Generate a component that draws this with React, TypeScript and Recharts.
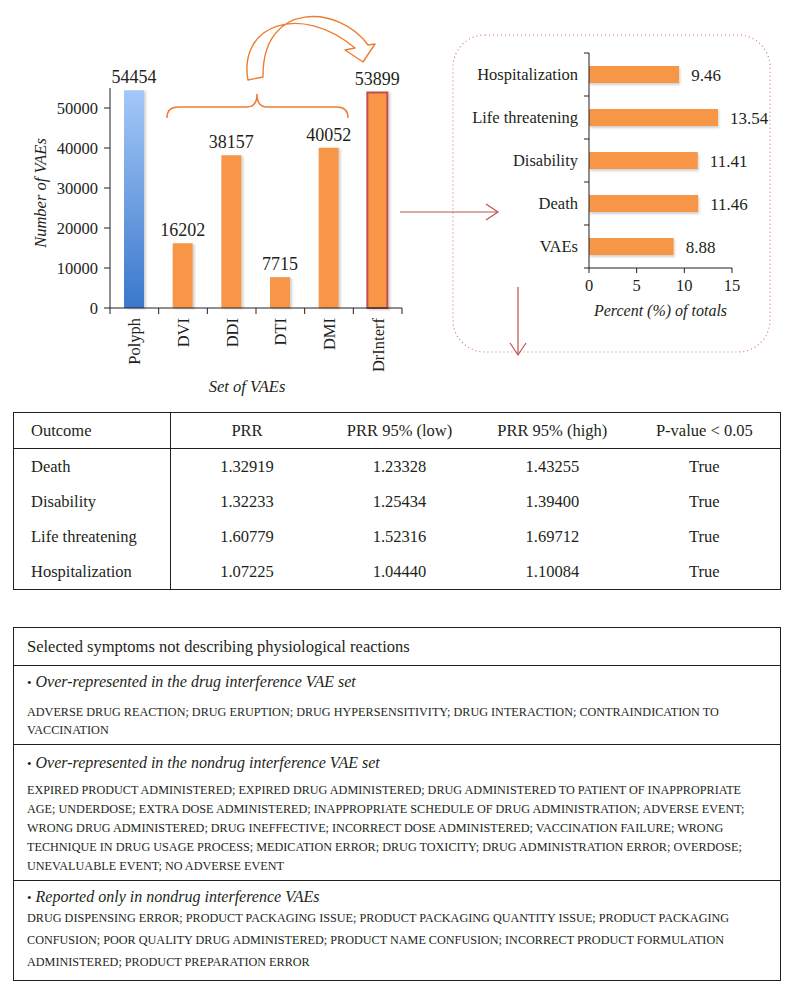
import React from "react";
import { BarChart, Bar, XAxis, YAxis, Cell, LabelList } from "recharts";

// left chart: number of VAEs per set
const vaeSets = ["Polyph", "DVI", "DDI", "DTI", "DMI", "DrInterf"];
const vaeCounts = [54454, 16202, 38157, 7715, 40052, 53899];
const countTicks = [0, 10000, 20000, 30000, 40000, 50000];

// right chart: percent of totals
const outcomes = ["Hospitalization", "Life threatening", "Disability", "Death", "VAEs"];
const outcomePercents = [9.46, 13.54, 11.41, 11.46, 8.88];
const percentTicks = [0, 5, 10, 15];

// PRR table
const prrHeaders = ["Outcome", "PRR", "PRR 95% (low)", "PRR 95% (high)", "P-value < 0.05"];
const prrOutcomes = ["Death", "Disability", "Life threatening", "Hospitalization"];
const prrValues = ["1.32919", "1.32233", "1.60779", "1.07225"];
const prrLow = ["1.23328", "1.25434", "1.52316", "1.04440"];
const prrHigh = ["1.43255", "1.39400", "1.69712", "1.10084"];
const prrSignificant = ["True", "True", "True", "True"];

// symptoms table
const symptomsTitle = "Selected symptoms not describing physiological reactions";
const drugSetTitle = "Over-represented in the drug interference VAE set";
const drugSetLines = [
  "ADVERSE DRUG REACTION; DRUG ERUPTION; DRUG HYPERSENSITIVITY; DRUG INTERACTION; CONTRAINDICATION TO",
  "VACCINATION",
];
const nondrugSetTitle = "Over-represented in the nondrug interference VAE set";
const nondrugSetLines = [
  "EXPIRED PRODUCT ADMINISTERED; EXPIRED DRUG ADMINISTERED; DRUG ADMINISTERED TO PATIENT OF INAPPROPRIATE",
  "AGE; UNDERDOSE; EXTRA DOSE ADMINISTERED; INAPPROPRIATE SCHEDULE OF DRUG ADMINISTRATION; ADVERSE EVENT;",
  "WRONG DRUG ADMINISTERED; DRUG INEFFECTIVE; INCORRECT DOSE ADMINISTERED; VACCINATION FAILURE; WRONG",
  "TECHNIQUE IN DRUG USAGE PROCESS; MEDICATION ERROR; DRUG TOXICITY; DRUG ADMINISTRATION ERROR; OVERDOSE;",
  "UNEVALUABLE EVENT; NO ADVERSE EVENT",
];
const onlyNondrugTitle = "Reported only in nondrug interference VAEs";
const onlyNondrugLines = [
  "DRUG DISPENSING ERROR; PRODUCT PACKAGING ISSUE; PRODUCT PACKAGING QUANTITY ISSUE; PRODUCT PACKAGING",
  "CONFUSION; POOR QUALITY DRUG ADMINISTERED; PRODUCT NAME CONFUSION; INCORRECT PRODUCT FORMULATION",
  "ADMINISTERED; PRODUCT PREPARATION ERROR",
];

const INK = "#231F20";
const ORANGE = "#F79646";
const RED = "#C0504D";
const FONT = "'Liberation Serif', 'DejaVu Serif', serif";

const setData = vaeSets.map((name, i) => ({ name, count: vaeCounts[i] }));
const outcomeData = outcomes.map((name, i) => ({ name, pct: outcomePercents[i] }));

const LEFT_BAND = 292 / vaeSets.length;
const RIGHT_BAND = 215 / outcomes.length;

function SetTick(props: any) {
  const { x, y, payload } = props;
  const last = payload.value === vaeSets[vaeSets.length - 1];
  return (
    <g>
      <line x1={x - LEFT_BAND / 2} x2={x - LEFT_BAND / 2} y1={y - 10} y2={y - 4} stroke={INK} />
      {last && <line x1={x + LEFT_BAND / 2} x2={x + LEFT_BAND / 2} y1={y - 10} y2={y - 4} stroke={INK} />}
      <text
        x={x + 6}
        y={y}
        transform={`rotate(-90, ${x + 6}, ${y})`}
        textAnchor="end"
        fontSize={16.5}
        fill={INK}
        fontFamily={FONT}
      >
        {payload.value}
      </text>
    </g>
  );
}

function OutcomeTick(props: any) {
  const { x, y, payload } = props;
  const first = payload.value === outcomes[0];
  return (
    <g>
      <line x1={x + 6} x2={x + 11} y1={y + RIGHT_BAND / 2} y2={y + RIGHT_BAND / 2} stroke={INK} />
      {first && <line x1={x + 6} x2={x + 11} y1={y - RIGHT_BAND / 2} y2={y - RIGHT_BAND / 2} stroke={INK} />}
      <text x={x} y={y + 5.5} textAnchor="end" fontSize={16.5} fill={INK} fontFamily={FONT}>
        {payload.value}
      </text>
    </g>
  );
}

const cell: React.CSSProperties = { padding: 0, height: 35, textAlign: "center" };

export default function App() {
  return (
    <div
      style={{
        position: "absolute",
        left: 0,
        top: 0,
        width: 794,
        height: 994,
        background: "#fff",
        fontFamily: FONT,
        color: INK,
      }}
    >
      {/* left: VAE sets */}
      <div style={{ position: "absolute", left: 0, top: 0 }}>
        <BarChart
          width={420}
          height={400}
          data={setData}
          margin={{ top: 88, right: 18, left: 20, bottom: 8 }}
          style={{ fontFamily: FONT }}
        >
          <defs>
            <linearGradient id="polyphGrad" x1="0" y1="0" x2="0" y2="1">
              <stop offset="0" stopColor="#A4C8F8" />
              <stop offset="1" stopColor="#3A78CB" />
            </linearGradient>
            <filter id="barShadow" x="-20%" y="-5%" width="150%" height="115%">
              <feDropShadow dx="2" dy="1" stdDeviation="1.2" floodColor="#000" floodOpacity="0.18" />
            </filter>
          </defs>
          <XAxis
            dataKey="name"
            interval={0}
            height={84}
            tickSize={6}
            tickMargin={4}
            tickLine={false}
            axisLine={{ stroke: INK }}
            tick={<SetTick />}
            label={{
              value: "Set of VAEs",
              position: "insideBottom",
              offset: 0,
              dx: -9,
              fontSize: 16.5,
              fontStyle: "italic",
              fill: INK,
            }}
          />
          <YAxis
            width={90}
            domain={[0, 55000]}
            ticks={countTicks}
            tickSize={6}
            tickMargin={6}
            axisLine={{ stroke: INK }}
            tickLine={{ stroke: INK }}
            tick={{ fontSize: 16.5, fill: INK }}
            label={{
              value: "Number of VAEs",
              angle: -90,
              position: "insideLeft",
              offset: 20,
              dy: -5,
              fontSize: 16.5,
              fontStyle: "italic",
              fill: INK,
              style: { textAnchor: "middle" },
            }}
          />
          <Bar dataKey="count" barSize={20} isAnimationActive={false}>
            {setData.map((d, i) => (
              <Cell
                key={d.name}
                fill={i === 0 ? "url(#polyphGrad)" : ORANGE}
                stroke={i === setData.length - 1 ? RED : "none"}
                strokeWidth={i === setData.length - 1 ? 2 : 0}
                filter="url(#barShadow)"
              />
            ))}
            <LabelList dataKey="count" position="top" offset={7} fontSize={18} fill={INK} />
          </Bar>
        </BarChart>
      </div>

      {/* right: percent of totals */}
      <div style={{ position: "absolute", left: 440, top: 30 }}>
        <BarChart
          width={330}
          height={320}
          layout="vertical"
          data={outcomeData}
          margin={{ top: 23, right: 38, left: 4, bottom: 32 }}
          style={{ fontFamily: FONT }}
        >
          <defs>
            <filter id="barShadow2" x="-5%" y="-20%" width="115%" height="160%">
              <feDropShadow dx="1" dy="2" stdDeviation="1.2" floodColor="#000" floodOpacity="0.18" />
            </filter>
          </defs>
          <XAxis
            type="number"
            domain={[0, 15]}
            ticks={percentTicks}
            height={50}
            tickSize={5}
            tickMargin={6}
            axisLine={{ stroke: INK }}
            tickLine={{ stroke: INK }}
            tick={{ fontSize: 16.5, fill: INK }}
            label={{
              value: "Percent (%) of totals",
              position: "insideBottom",
              offset: 2,
              fontSize: 16,
              fontStyle: "italic",
              fill: INK,
            }}
          />
          <YAxis
            type="category"
            dataKey="name"
            width={145}
            interval={0}
            tickSize={5}
            tickMargin={6}
            tickLine={false}
            axisLine={{ stroke: INK }}
            tick={<OutcomeTick />}
          />
          <Bar dataKey="pct" barSize={17} fill={ORANGE} isAnimationActive={false}>
            {outcomeData.map((d) => (
              <Cell key={d.name} filter="url(#barShadow2)" />
            ))}
            <LabelList dataKey="pct" position="right" offset={12} fontSize={17} fill={INK} />
          </Bar>
        </BarChart>
      </div>

      {/* annotations */}
      <svg
        width={794}
        height={400}
        style={{ position: "absolute", left: 0, top: 0, pointerEvents: "none" }}
      >
        <path
          d="M167,118 Q167,107 178,107 L247,107 Q257,107 257,94 Q257,107 267,107 L337,107 Q348,107 348,118"
          fill="none"
          stroke="#ED7D31"
          strokeWidth={1.5}
        />
        {/* twisted curved arrow */}
        <path
          d="M248,80 C238,25 300,2 355,48 L345,50 L363,62 L375,44 L368,45 C340,5 262,0 263,77 Z"
          fill="none"
          stroke="#ED7D31"
          strokeWidth={1.4}
          strokeLinejoin="round"
        />
        <rect
          x={453}
          y={35}
          width={317}
          height={317}
          rx={32}
          fill="none"
          stroke="#D07A78"
          strokeWidth={1.2}
          strokeDasharray="1 3"
        />
        <g stroke={RED} strokeWidth={1.2} fill="none">
          <line x1={400} y1={212} x2={497} y2={212} />
          <polyline points="486,204 498,212 486,220" />
          <line x1={518} y1={287} x2={518} y2={354} />
          <polyline points="510,343 518,355 526,343" />
        </g>
      </svg>

      {/* PRR table */}
      <table
        style={{
          position: "absolute",
          left: 13,
          top: 412,
          width: 768,
          borderCollapse: "collapse",
          fontSize: 16.5,
          borderTop: `1.5px solid ${INK}`,
          borderBottom: `1.5px solid ${INK}`,
          borderLeft: `1px solid ${INK}`,
          borderRight: `1px solid ${INK}`,
        }}
      >
        <colgroup>
          <col style={{ width: 157 }} />
          <col style={{ width: 153 }} />
          <col style={{ width: 153 }} />
          <col style={{ width: 153 }} />
          <col style={{ width: 152 }} />
        </colgroup>
        <tbody>
          <tr style={{ borderBottom: `1px solid ${INK}` }}>
            {prrHeaders.map((h, i) => (
              <td
                key={h}
                style={{
                  ...cell,
                  textAlign: i === 0 ? "left" : "center",
                  paddingLeft: i === 0 ? 17 : 0,
                  borderRight: i === 0 ? `1px solid ${INK}` : undefined,
                }}
              >
                {h}
              </td>
            ))}
          </tr>
          {prrOutcomes.map((o, r) => (
            <tr key={o}>
              <td style={{ ...cell, textAlign: "left", paddingLeft: 17, borderRight: `1px solid ${INK}` }}>{o}</td>
              <td style={cell}>{prrValues[r]}</td>
              <td style={cell}>{prrLow[r]}</td>
              <td style={cell}>{prrHigh[r]}</td>
              <td style={cell}>{prrSignificant[r]}</td>
            </tr>
          ))}
        </tbody>
      </table>

      {/* symptoms table */}
      <div
        style={{
          position: "absolute",
          left: 13,
          top: 627,
          width: 766,
          border: `1px solid ${INK}`,
          borderTopWidth: 1.5,
          borderBottomWidth: 1.5,
        }}
      >
        <div style={{ height: 37, lineHeight: "37px", paddingLeft: 13, fontSize: 16.5, borderBottom: `1px solid ${INK}` }}>
          {symptomsTitle}
        </div>
        <Section title={drugSetTitle} lines={drugSetLines} height={79} pad={7} gap={11} lh={18} />
        <Section title={nondrugSetTitle} lines={nondrugSetLines} height={136} pad={9} gap={8} lh={19} />
        <Section title={onlyNondrugTitle} lines={onlyNondrugLines} height={99} pad={7} gap={0} lh={22} last />
      </div>
    </div>
  );
}

function Section({
  title,
  lines,
  height,
  pad,
  gap,
  lh,
  last,
}: {
  title: string;
  lines: string[];
  height: number;
  pad: number;
  gap: number;
  lh: number;
  last?: boolean;
}) {
  return (
    <div
      style={{
        height,
        boxSizing: "border-box",
        paddingTop: pad,
        paddingLeft: 13,
        borderBottom: last ? "none" : `1px solid ${INK}`,
      }}
    >
      <div style={{ fontSize: 16, lineHeight: "18px", marginBottom: gap }}>
        <span style={{ fontSize: 13 }}>•</span> <i>{title}</i>
      </div>
      {lines.map((l) => (
        <div key={l} style={{ fontSize: 12.2, lineHeight: `${lh}px`, whiteSpace: "nowrap" }}>
          {l}
        </div>
      ))}
    </div>
  );
}
